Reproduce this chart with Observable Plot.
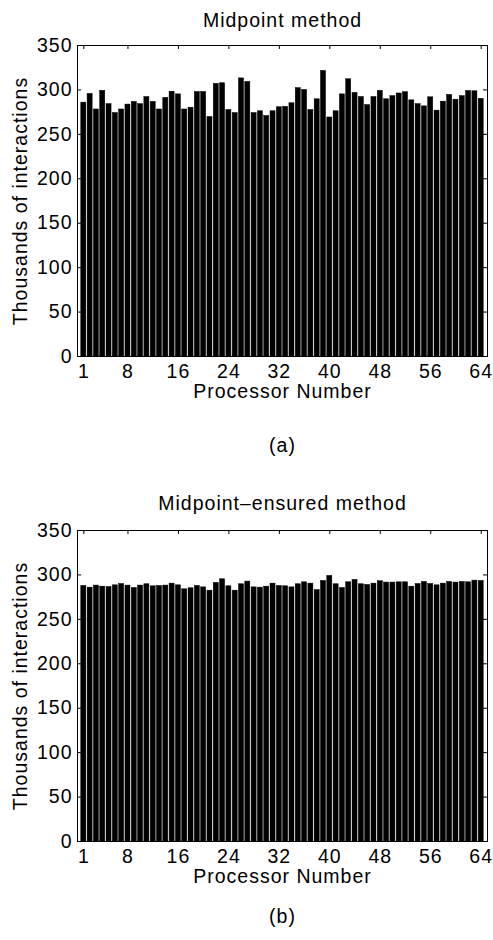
<!DOCTYPE html>
<html><head><meta charset="utf-8">
<script src="https://cdn.jsdelivr.net/npm/d3@7"></script>
<script src="https://cdn.jsdelivr.net/npm/@observablehq/plot@0.6"></script>
<style>
body{margin:0;background:#fff;width:493px;height:940px;position:relative;overflow:hidden}
.panel{position:absolute;left:0}
</style></head><body>
<div id="a" class="panel" style="top:0"></div>
<div id="b" class="panel" style="top:485px"></div>
<script>
const processors = d3.range(1, 65);
const midpoint = [285.7, 295.5, 278, 299, 284, 274, 278, 283.5, 286.5, 284,
  292, 286.5, 278, 291, 298, 295, 278, 280, 297.7, 297.7,
  269.5, 306.8, 307.5, 277.4, 274, 313, 309, 274, 276, 270.7,
  276, 280.5, 281, 285, 302, 300, 277.4, 289.5, 321.4, 269,
  276, 295, 312, 296.6, 292, 283, 292, 299, 289.5, 293,
  296, 297.4, 288.3, 284, 281.5, 291.7, 276.7, 286.8, 294.4, 289,
  293, 298.9, 298.5, 290];
const ensured = [287.6, 285.7, 288, 286.8, 286.5, 288.3, 289.8, 288, 285.3, 288,
  289.5, 287.2, 287.6, 288, 290.2, 288.3, 283.8, 285, 287.6, 286,
  282.3, 291, 295.1, 287.2, 282.3, 289.5, 292.5, 286, 285.7, 286.8,
  290.2, 287.6, 287.2, 286, 289.5, 291.7, 290.2, 283, 293.2, 298.9,
  289.5, 285.3, 291.7, 294.4, 289.5, 288.7, 290.2, 292.9, 291.4, 291.4,
  291.7, 291.7, 286.8, 289.8, 292.1, 289.8, 288.3, 290.2, 292.1, 291.4,
  292.1, 291.7, 293.6, 293.2];
const xTicks = [1, 8, 16, 24, 32, 40, 48, 56, 64];
const yTicks = [0, 50, 100, 150, 200, 250, 300, 350];
const titles = ["Midpoint method", "Midpoint\u2013ensured method"];
const captions = ["(a)", "(b)"];
const xLabel = "Processor Number";
const yLabel = "Thousands of interactions";

function panel(values, title, caption, titleDy, captionDy) {
  const data = processors.map((p, i) => ({p, v: values[i]}));
  const fs = 19.5;
  return Plot.plot({
    width: 493, height: 470,
    marginLeft: 77, marginRight: 6, marginTop: 45, marginBottom: 114,
    style: {fontFamily: "'Liberation Sans', Arial, sans-serif", fontSize: fs + "px", letterSpacing: "1px", color: "black", background: "white"},
    x: {domain: [0, 65], ticks: xTicks, tickSize: 0, tickPadding: 8, label: null, tickFormat: d => String(d)},
    y: {domain: [0, 350], ticks: yTicks, tickSize: 0, tickPadding: 5, label: null, tickFormat: d => String(d)},
    marks: [
      Plot.rectY(data, {x1: d => d.p - 0.4, x2: d => d.p + 0.4, y: "v", fill: "black", stroke: "black", strokeWidth: 0.5}),
      Plot.ruleX(xTicks, {x: d => d, y1: 0, y2: 4.5, stroke: "black"}),
      Plot.ruleX(xTicks, {x: d => d, y1: 345.5, y2: 350, stroke: "black"}),
      Plot.ruleY(yTicks, {y: d => d, x1: 0, x2: 0.65, stroke: "black"}),
      Plot.ruleY(yTicks, {y: d => d, x1: 64.35, x2: 65, stroke: "black"}),
      Plot.frame({stroke: "black"}),
      Plot.text([title], {frameAnchor: "top", lineAnchor: "middle", textAnchor: "middle", dy: titleDy, text: d => d, fontSize: fs}),
      Plot.text([xLabel], {frameAnchor: "bottom", lineAnchor: "middle", textAnchor: "middle", dy: 35, text: d => d, fontSize: fs}),
      Plot.text([yLabel], {frameAnchor: "left", lineAnchor: "middle", textAnchor: "middle", dx: -57, rotate: -90, text: d => d, fontSize: fs}),
      Plot.text([caption], {frameAnchor: "bottom", lineAnchor: "middle", textAnchor: "middle", dy: captionDy, text: d => d, fontSize: fs})
    ]
  });
}
document.getElementById("a").append(panel(midpoint, titles[0], captions[0], -25, 89));
document.getElementById("b").append(panel(ensured, titles[1], captions[1], -27, 75));
</script>
</body></html>
